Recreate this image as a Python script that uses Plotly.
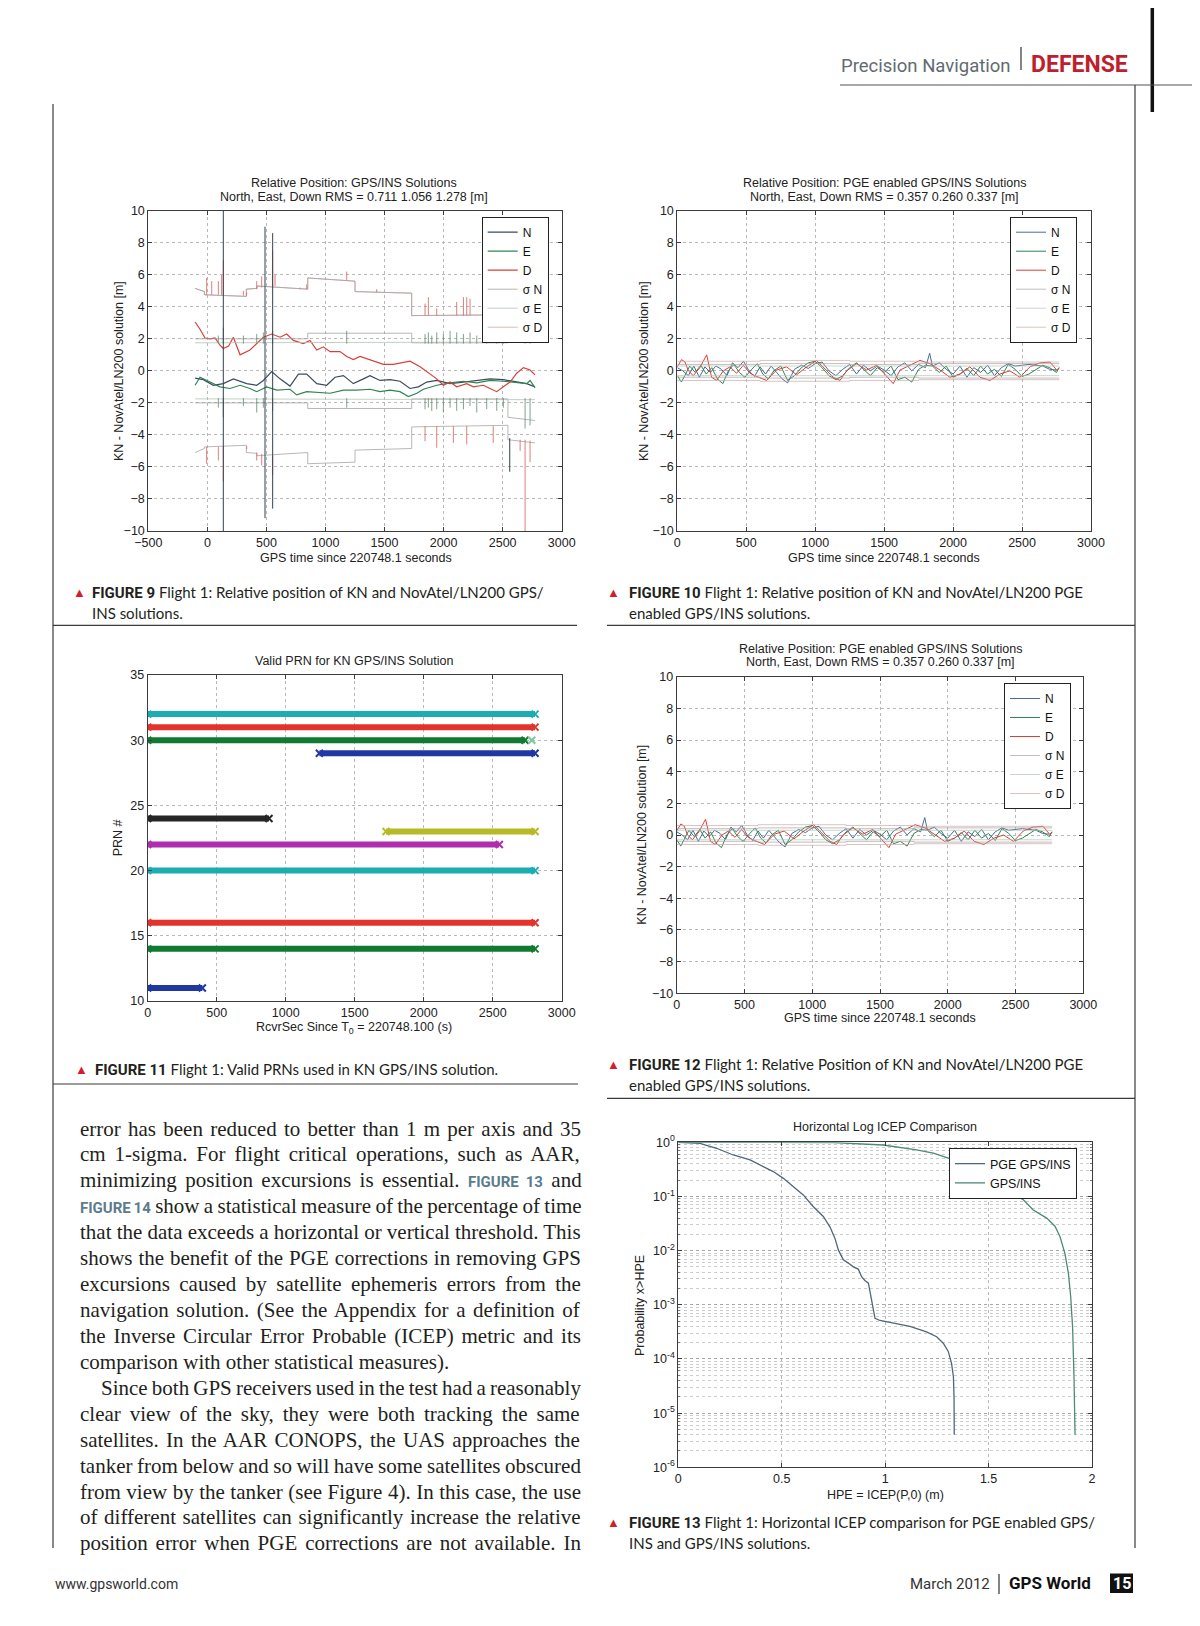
import plotly.graph_objects as go

W, H = 1200, 1626
OFF = 8  # page body margin of the html page
def PX(x): return (x - OFF) / W
def PY(y): return 1 - (y - OFF) / H

# ---------------- DATA ----------------
# Figure 9 : Relative position GPS/INS (t in s, values in m)
fig9_N_t = [-104, -62, -34, 51, 135, 220, 333, 418, 474, 545, 615, 700, 771, 841, 926, 1010, 1081, 1152, 1236, 1321,
            1377, 1462, 1547, 1631, 1716, 1787, 1857, 1942, 2055, 2168, 2281, 2393, 2506, 2619, 2704, 2774]
fig9_N = [-0.45, -0.5, -0.55, -0.9, -0.8, -0.5, -0.8, -0.9, -0.6, -0.05, -0.5, -0.95, -0.2, -0.2, -0.8, -0.9, -0.4, -0.3, -0.8, -0.5,
          -0.3, -0.6, -0.55, -0.65, -1.1, -1.0, -0.7, -0.6, -0.8, -0.7, -0.6, -0.5, -0.55, -0.7, -0.8, -1.0]
fig9_E_t = [-104, -62, 23, 107, 192, 277, 361, 418, 502, 587, 700, 756, 841, 954, 1039, 1152, 1264, 1377, 1462, 1547,
            1631, 1702, 1773, 1829, 1942, 2055, 2168, 2281, 2393, 2506, 2619, 2704, 2732, 2774]
fig9_E = [-0.9, -0.4, -0.7, -1.0, -1.1, -0.9, -1.1, -1.3, -1.0, -1.2, -1.15, -1.5, -1.3, -1.35, -1.4, -1.2, -1.2, -1.15, -1.3, -1.2,
          -1.3, -1.6, -1.4, -1.15, -0.9, -0.75, -0.65, -0.75, -0.6, -0.65, -0.75, -0.8, -0.6, -1.05]
fig9_D_t = [-104, -62, -20, 23, 65, 107, 135, 180, 220, 277, 361, 418, 474, 545, 615, 672, 728, 813, 869, 926,
            982, 1039, 1123, 1180, 1236, 1293, 1377, 1490, 1575, 1660, 1716, 1801, 1857, 1942, 1998, 2055, 2111, 2196, 2252, 2337,
            2393, 2450, 2506, 2563, 2619, 2676, 2732, 2774]
fig9_D = [3.05, 2.6, 2.05, 2.0, 2.05, 1.6, 1.4, 1.55, 2.1, 1.0, 1.3, 1.7, 2.1, 2.3, 2.1, 2.3, 1.9, 1.7, 1.9, 1.3,
          1.5, 1.2, 1.2, 0.9, 0.7, 0.9, 0.7, 0.4, 0.4, 0.5, 0.6, 0.25, -0.05, -0.5, -0.9, -0.7, -1.0, -0.8, -1.0, -0.9,
          -1.1, -1.3, -1.0, -0.7, -0.15, 0.2, 0.05, -0.25]
fig9_sigD_t = [-104, -25, -25, 330, 330, 420, 420, 850, 850, 1250, 1250, 1730, 1730, 2545, 2545, 2774]
fig9_sigD_up = [5.15, 4.95, 4.75, 4.65, 5.1, 5.15, 5.3, 5.1, 5.8, 5.6, 4.95, 4.85, 3.45, 3.5, 4.3, 4.5]
fig9_sigD_lo = [-5.1, -4.85, -4.75, -4.65, -5.1, -5.15, -5.3, -5.1, -5.8, -5.7, -4.95, -4.85, -3.5, -3.4, -4.3, -4.5]
fig9_sigN_t = [-104, 850, 850, 1730, 1730, 2545, 2545, 2774]
fig9_sigN_up = [2.0, 2.0, 2.35, 2.35, 1.75, 1.75, 2.95, 3.05]
fig9_sigN_lo = [-2.0, -2.0, -2.35, -2.35, -1.75, -1.75, -2.9, -3.1]
fig9_sigE_t = [-104, 2774]
fig9_sigE_up = [1.75, 1.8]
fig9_sigE_lo = [-1.75, -1.8]
# spikes (red, upper band)
fig9_rsu_t = [-6, 37, 93, 121, 135, 305, 333, 418, 460, 553, 573, 785, 841, 1180, 1434, 1843, 1871, 1942, 2111, 2168, 2196, 2224]
fig9_rsu_a = [4.75, 4.75, 4.75, 4.75, 4.7, 4.7, 4.7, 5.1, 5.2, 5.3, 5.3, 5.1, 5.1, 5.65, 4.9, 3.45, 3.45, 3.45, 3.45, 3.45, 3.45, 3.45]
fig9_rsu_b = [5.8, 5.6, 5.6, 6.0, 6.9, 5.0, 4.9, 5.6, 5.9, 7.5, 6.0, 5.2, 5.4, 6.2, 5.1, 4.2, 4.6, 3.9, 4.3, 4.6, 4.6, 4.5]
# spikes (red, lower band)
fig9_rsl_t = [-6, 93, 135, 333, 418, 460, 553, 1843, 1942, 2083, 2196, 2420, 2648, 2690, 2732]
fig9_rsl_a = [-4.75, -4.75, -4.7, -4.7, -5.1, -5.2, -5.3, -3.45, -3.45, -3.45, -3.45, -3.45, -4.3, -4.3, -4.35]
fig9_rsl_b = [-5.8, -5.6, -6.9, -4.9, -5.6, -5.9, -6.5, -4.4, -4.8, -4.5, -4.6, -4.5, -5.0, -10.0, -5.7]
# spikes (dark, long)
fig9_dsp_t = [135, 488, 553, 2560]
fig9_dsp_a = [10.0, 9.0, 8.6, -4.2]
fig9_dsp_b = [-10.0, -9.2, -8.6, -6.3]
# spikes (green, around sigma N/E band)
fig9_gsp_t = [93, 135, 305, 418, 474, 553, 1180, 1843, 1871, 1900, 1942, 1998, 2055, 2111, 2168, 2224, 2281, 2365, 2450, 2506, 2690, 2732]
fig9_gsp_up = [2.2, 2.7, 2.2, 2.3, 2.4, 2.5, 2.5, 2.3, 2.4, 2.2, 2.4, 2.3, 2.5, 2.4, 2.3, 2.4, 2.2, 2.5, 2.4, 2.3, 3.5, 3.3]
fig9_gsp_lo = [-2.3, -2.9, -2.2, -2.6, -2.3, -2.5, -2.3, -2.4, -2.3, -2.5, -2.4, -2.6, -2.3, -2.5, -2.4, -2.2, -2.6, -2.4, -2.5, -2.3, -3.6, -3.4]
fig9_sig_base = 1.7

# Figures 10 / 12 : PGE enabled GPS/INS
pge_D_t = [0, 31, 56, 80, 116, 164, 213, 249, 285, 334, 382, 430, 479, 527, 575, 648, 720, 793, 865, 938,
           1010, 1059, 1131, 1180, 1228, 1300, 1373, 1446, 1518, 1566, 1615, 1687, 1760, 1832, 1905, 1977, 2050, 2122, 2195, 2267,
           2340, 2412, 2485, 2557, 2630, 2703, 2751, 2770]
pge_D = [0.25, 0.7, 0.55, 0.0, -0.3, 0.2, 1.0, -0.4, -0.6, 0.0, 0.25, -0.15, 0.35, -0.15, -0.35, -0.6, 0.05, 0.25, -0.25, 0.25,
         0.65, 0.25, -0.4, -0.6, 0.0, 0.45, 0.05, 0.35, -0.35, -0.8, 0.05, 0.35, 0.65, 0.45, 0.05, -0.4, -0.2, 0.25, -0.4, -0.6,
         -0.2, 0.0, -0.4, 0.25, 0.5, 0.55, 0.05, 0.2]
pge_E_t = [0, 30, 60, 90, 130, 170, 210, 250, 290, 330, 370, 410, 450, 490, 540, 580, 620, 660, 700, 750,
           800, 850, 900, 950, 1000, 1050, 1100, 1150, 1200, 1250, 1300, 1350, 1400, 1450, 1500, 1550, 1600, 1650, 1700, 1750,
           1800, 1850, 1900, 1950, 2000, 2050, 2100, 2150, 2200, 2250, 2300, 2350, 2400, 2450, 2500, 2550, 2600, 2650, 2700, 2750, 2770]
pge_E = [-0.3, -0.7, -0.2, 0.3, -0.1, 0.35, -0.2, 0.2, -0.5, -0.8, 0.0, 0.4, -0.1, -0.4, 0.1, 0.45, -0.2, -0.5, 0.0, 0.3,
         -0.6, -0.3, 0.2, 0.5, 0.6, 0.2, -0.3, -0.55, -0.3, 0.2, 0.5, 0.1, -0.3, 0.2, -0.1, 0.3, -0.55, -0.4, -0.7, 0.1,
         0.35, 0.3, -0.1, 0.3, -0.4, -0.2, 0.15, -0.3, 0.3, -0.2, 0.1, -0.35, 0.4, 0.1, -0.35, -0.2, 0.1, 0.35, 0.2, -0.1, 0.2]
pge_N_t = [0, 40, 80, 120, 160, 200, 240, 280, 320, 360, 400, 440, 480, 520, 560, 600, 640, 680, 720, 760,
           800, 850, 900, 950, 1000, 1050, 1100, 1150, 1200, 1250, 1300, 1350, 1400, 1450, 1500, 1550, 1600, 1650, 1700, 1750,
           1800, 1830, 1850, 1900, 1950, 2000, 2050, 2100, 2150, 2200, 2250, 2300, 2350, 2400, 2450, 2500, 2550, 2600, 2650, 2700, 2750]
pge_N = [0.2, 0.0, -0.3, 0.3, -0.4, 0.25, -0.1, 0.3, 0.1, -0.3, 0.5, 0.2, 0.6, 0.0, -0.35, 0.25, -0.2, 0.3, -0.1, -0.5,
         -0.75, 0.1, 0.35, 0.15, 0.45, 0.55, 0.0, -0.3, 0.1, 0.4, -0.2, 0.35, 0.0, 0.3, 0.05, -0.3, 0.25, 0.5, 0.0, 0.4,
         0.2, 1.1, 0.3, 0.5, 0.1, -0.2, 0.3, -0.4, 0.2, -0.1, 0.35, -0.3, 0.2, 0.45, 0.3, 0.35, 0.4, 0.35, 0.3, 0.1, 0.05]
pge_sig_t = [0, 600, 600, 1250, 1250, 1750, 1750, 2770]
pge_sigN = [0.4, 0.4, 0.45, 0.45, 0.4, 0.4, 0.45, 0.45]
pge_sigE = [0.3, 0.3, 0.32, 0.32, 0.3, 0.3, 0.3, 0.3]
pge_sigD = [0.6, 0.6, 0.65, 0.65, 0.6, 0.6, 0.55, 0.55]

# Figure 11 : valid PRNs
prn_ids = [32, 31, 30, 29, 24, 23, 22, 20, 16, 14, 11]
prn_start = [0, 0, 0, 1244, 0, 1727, 0, 0, 0, 0, 0]
prn_end = [2807, 2807, 2734, 2807, 879, 2807, 2548, 2807, 2807, 2807, 396]
prn_colors = ['#1aaeb2', '#e2332d', '#0f7a30', '#1f38a2', '#262626', '#b8ba25', '#b02db0',
              '#1aaeb2', '#e2332d', '#0f7a30', '#1f38a2']
prn_extra_x = [2783]
prn_extra_y = [30]

# Figure 13 : horizontal log ICEP comparison
pge_hpe = [0.0, 0.105, 0.185, 0.266, 0.347, 0.395, 0.459, 0.508, 0.556, 0.604, 0.653, 0.701, 0.733, 0.757, 0.774, 0.798,
           0.822, 0.846, 0.870, 0.886, 0.902, 0.919, 0.930, 0.940, 0.951, 0.975, 1.039, 1.12, 1.20, 1.249, 1.281, 1.305,
           1.321, 1.33, 1.333, 1.334]
pge_prob = [1.0, 0.959, 0.776, 0.583, 0.472, 0.380, 0.288, 0.216, 0.151, 0.107, 0.0646, 0.0427, 0.0275, 0.0170, 0.0102, 0.00676,
            0.00589, 0.00501, 0.00457, 0.00331, 0.00282, 0.00251, 0.00151, 0.000933, 0.000562, 0.000513, 0.000457, 0.000398,
            0.000316, 0.000257, 0.000195, 0.000138, 8.3e-5, 4.7e-5, 2.0e-5, 4.0e-6]
gps_hpe = [0.0, 0.75, 0.99, 1.152, 1.233, 1.313, 1.394, 1.475, 1.523, 1.6, 1.668, 1.716, 1.781, 1.821, 1.845, 1.869,
           1.886, 1.897, 1.906, 1.913, 1.918]
gps_prob = [1.0, 0.989, 0.891, 0.724, 0.631, 0.501, 0.380, 0.224, 0.170, 0.117, 0.0871, 0.0562, 0.0398, 0.0282, 0.0182,
            0.00891, 0.0038, 0.00141, 0.000398, 4.7e-5, 4.0e-6]

# Tick labels
log_tickvals = [1e-6, 1e-5, 1e-4, 1e-3, 1e-2, 1e-1, 1]
log_ticktext = ['10<sup>-6</sup>', '10<sup>-5</sup>', '10<sup>-4</sup>', '10<sup>-3</sup>',
                '10<sup>-2</sup>', '10<sup>-1</sup>', '10<sup>0</sup>']

# Body text
body_lines = [
    "error has been reduced to better than 1 m per axis and 35",
    "cm 1-sigma. For flight critical operations, such as AAR,",
    "minimizing position excursions is essential. §FIGURE 13§ and",
    "§FIGURE 14§ show a statistical measure of the percentage of time",
    "that the data exceeds a horizontal or vertical threshold. This",
    "shows the benefit of the PGE corrections in removing GPS",
    "excursions caused by satellite ephemeris errors from the",
    "navigation solution. (See the Appendix for a definition of",
    "the Inverse Circular Error Probable (ICEP) metric and its",
    "comparison with other statistical measures).",
    "Since both GPS receivers used in the test had a reasonably",
    "clear view of the sky, they were both tracking the same",
    "satellites. In the AAR CONOPS, the UAS approaches the",
    "tanker from below and so will have some satellites obscured",
    "from view by the tanker (see Figure 4). In this case, the use",
    "of different satellites can significantly increase the relative",
    "position error when PGE corrections are not available. In",
]
body_last_of_par = [9]
body_indent = [10]

# ---------------- FIGURE ----------------
fig = go.Figure()

C_N, C_E, C_D = '#3b4b5a', '#2f8552', '#d8403a'
C_SN, C_SE, C_SD = '#a3a3a3', '#b4c4b4', '#d2a6a6'
C_N2 = '#4a6a9a'

def axn(i):
    return '' if i == 1 else str(i)

def line(t, v, ax, color, width=1.0, name=None, legend=None, show=False):
    fig.add_trace(go.Scatter(x=t, y=v, xaxis='x' + axn(ax), yaxis='y' + axn(ax), mode='lines',
                             line=dict(color=color, width=width), name=name,
                             legend=legend, showlegend=show, hoverinfo='skip'))

def segs(ts, a, b):
    xs, ys = [], []
    for t, y0, y1 in zip(ts, a, b):
        xs += [t, t, None]
        ys += [y0, y1, None]
    return xs, ys

# Figure 9
line(fig9_N_t, fig9_N, 1, C_N, 1.2, 'N', 'legend', True)
line(fig9_E_t, fig9_E, 1, C_E, 1.2, 'E', 'legend', True)
line(fig9_D_t, fig9_D, 1, C_D, 1.2, 'D', 'legend', True)
line(fig9_sigN_t, fig9_sigN_up, 1, C_SN, 0.8, 'σ N', 'legend', True)
line(fig9_sigE_t, fig9_sigE_up, 1, C_SE, 0.8, 'σ E', 'legend', True)
line(fig9_sigD_t, fig9_sigD_up, 1, C_SD, 0.8, 'σ D', 'legend', True)
line(fig9_sigN_t, fig9_sigN_lo, 1, C_SN, 0.8)
line(fig9_sigE_t, fig9_sigE_lo, 1, C_SE, 0.8)
line(fig9_sigD_t, fig9_sigD_lo, 1, '#a9a3a3', 0.8)
line(fig9_sigD_t, fig9_sigD_up, 1, '#a9a3a3', 0.8)
x, y = segs(fig9_rsu_t, fig9_rsu_a, fig9_rsu_b); line(x, y, 1, '#d9706a', 0.9)
x, y = segs(fig9_rsl_t, fig9_rsl_a, fig9_rsl_b); line(x, y, 1, '#d9706a', 0.9)
x, y = segs(fig9_gsp_t, [fig9_sig_base] * len(fig9_gsp_t), fig9_gsp_up); line(x, y, 1, '#5f8a70', 0.8)
x, y = segs(fig9_gsp_t, [-fig9_sig_base] * len(fig9_gsp_t), fig9_gsp_lo); line(x, y, 1, '#5f8a70', 0.8)
x, y = segs(fig9_dsp_t, fig9_dsp_a, fig9_dsp_b); line(x, y, 1, '#33414c', 1.0)

# Figures 10 and 12 (same data)
for ax, lg in ((2, 'legend2'), (4, 'legend3')):
    line(pge_N_t, pge_N, ax, C_N2, 1.0, 'N', lg, True)
    line(pge_E_t, pge_E, ax, C_E, 1.0, 'E', lg, True)
    line(pge_D_t, pge_D, ax, C_D, 1.0, 'D', lg, True)
    line(pge_sig_t, pge_sigN, ax, C_SN, 0.7, 'σ N', lg, True)
    line(pge_sig_t, pge_sigE, ax, C_SE, 0.7, 'σ E', lg, True)
    line(pge_sig_t, pge_sigD, ax, C_SD, 0.7, 'σ D', lg, True)
    line(pge_sig_t, [-v for v in pge_sigN], ax, C_SN, 0.7)
    line(pge_sig_t, [-v for v in pge_sigE], ax, C_SE, 0.7)
    line(pge_sig_t, [-v for v in pge_sigD], ax, C_SD, 0.7)

# Figure 11
for pid, s, e, c in zip(prn_ids, prn_start, prn_end, prn_colors):
    fig.add_trace(go.Scatter(x=[s, e], y=[pid, pid], xaxis='x3', yaxis='y3', mode='lines+markers',
                             line=dict(color=c, width=6), marker=dict(symbol='x-thin', size=7, color=c,
                                                                       line=dict(color=c, width=2)),
                             showlegend=False, hoverinfo='skip'))
fig.add_trace(go.Scatter(x=prn_extra_x, y=prn_extra_y, xaxis='x3', yaxis='y3', mode='markers',
                         marker=dict(symbol='x-thin', size=7, line=dict(color='#7cc89a', width=2)),
                         showlegend=False, hoverinfo='skip'))

# Figure 13
fig.add_trace(go.Scatter(x=pge_hpe, y=pge_prob, xaxis='x5', yaxis='y5', mode='lines',
                         line=dict(color='#506679', width=1.3), name='PGE GPS/INS', legend='legend4'))
fig.add_trace(go.Scatter(x=gps_hpe, y=gps_prob, xaxis='x5', yaxis='y5', mode='lines',
                         line=dict(color='#4b8a76', width=1.3), name='GPS/INS', legend='legend4'))

# ---------------- AXES ----------------
TICKFONT = dict(family='Liberation Sans, Arial', size=12.5, color='#222')

def axis(domain, anchor, rng, **kw):
    d = dict(domain=domain, anchor=anchor, range=rng, showline=True, linecolor='#3c3c3c', linewidth=1,
             mirror='ticks', ticks='inside', ticklen=4, tickcolor='#3c3c3c', showgrid=True,
             gridcolor='#b9b9b9', griddash='dot', gridwidth=1, zeroline=False, tickfont=TICKFONT,
             automargin=False)
    d.update(kw)
    return d

def dom_x(l, r): return [PX(l), PX(r)]
def dom_y(t, b): return [PY(b), PY(t)]

lay = dict(width=W, height=H, margin=dict(l=0, r=0, t=0, b=0, pad=0, autoexpand=False),
           paper_bgcolor='white', plot_bgcolor='white', showlegend=True)
lay['xaxis'] = axis(dom_x(148.3, 561.7), 'y', [-500, 3000], dtick=500)
lay['yaxis'] = axis(dom_y(210.7, 531), 'x', [-10, 10], dtick=2)
lay['xaxis2'] = axis(dom_x(677.3, 1091), 'y2', [0, 3000], dtick=500)
lay['yaxis2'] = axis(dom_y(210.7, 531), 'x2', [-10, 10], dtick=2)
lay['xaxis3'] = axis(dom_x(147.7, 561.7), 'y3', [0, 3000], dtick=500)
lay['yaxis3'] = axis(dom_y(675, 1001), 'x3', [10, 35], dtick=5)
lay['xaxis4'] = axis(dom_x(676.7, 1083.3), 'y4', [0, 3000], dtick=500)
lay['yaxis4'] = axis(dom_y(676.7, 993.3), 'x4', [-10, 10], dtick=2)
lay['xaxis5'] = axis(dom_x(678.3, 1092), 'y5', [0, 2], dtick=0.5)
lay['yaxis5'] = axis(dom_y(1142.3, 1467.3), 'x5', [-6, 0], type='log', tickvals=log_tickvals,
                     ticktext=log_ticktext, gridcolor='#a8a8a8',
                     minor=dict(showgrid=True, gridcolor='#cdcdcd', griddash='dot', dtick='D1',
                                ticks='inside', ticklen=2, tickcolor='#777'))

def legend(x, y, size=12):
    return dict(x=PX(x), y=PY(y), xanchor='left', yanchor='top', xref='paper', yref='paper', bgcolor='white',
                bordercolor='#222', borderwidth=1, font=dict(family='Liberation Sans, Arial', size=size, color='#111'),
                tracegroupgap=0, itemwidth=30, traceorder='normal')

lay['legend'] = legend(481.7, 216.7, 12)
lay['legend2'] = legend(1010, 216.7, 12)
lay['legend3'] = legend(1004, 683, 12)
lay['legend4'] = legend(949, 1148, 12.5)

# ---------------- TEXT ----------------
ann = []
SANS = 'Liberation Sans, Arial'
NARROW = 'Roboto'

def text(x, y, s, size=12.5, color='#222', family=SANS, xanchor='center', yanchor='middle', angle=0):
    ann.append(dict(x=PX(x), y=PY(y), xref='paper', yref='paper', text=s, showarrow=False,
                    font=dict(size=size, color=color, family=family), xanchor=xanchor, yanchor=yanchor,
                    textangle=angle, borderpad=0))

# chart titles
text(354, 182.7, 'Relative Position: GPS/INS Solutions')
text(354, 196.7, 'North, East, Down RMS = 0.711 1.056 1.278 [m]')
text(884, 182.7, 'Relative Position: PGE enabled GPS/INS Solutions')
text(884, 196.7, 'North, East, Down RMS = 0.357 0.260 0.337 [m]')
text(354, 660.7, 'Valid PRN for KN GPS/INS Solution')
text(880, 648.5, 'Relative Position: PGE enabled GPS/INS Solutions')
text(880, 662.5, 'North, East, Down RMS = 0.357 0.260 0.337 [m]')
text(885, 1127, 'Horizontal Log ICEP Comparison')
# axis titles
text(356, 557.7, 'GPS time since 220748.1 seconds')
text(884, 557.7, 'GPS time since 220748.1 seconds')
text(354, 1027.7, 'RcvrSec Since T<sub>0</sub> = 220748.100 (s)')
text(880, 1018.3, 'GPS time since 220748.1 seconds')
text(885, 1495, 'HPE = ICEP(P,0) (m)')
text(118.3, 370.8, 'KN - NovAtel/LN200 solution [m]', angle=-90)
text(643.3, 370.8, 'KN - NovAtel/LN200 solution [m]', angle=-90)
text(118.3, 838, 'PRN #', angle=-90)
text(641.7, 835, 'KN - NovAtel/LN200 solution [m]', angle=-90)
text(640, 1305, 'Probability x>HPE', angle=-90)

# header
text(1012, 66, 'Precision Navigation', size=18.5, color='#5f6b70', family=NARROW, xanchor='right')
text(1030, 65, '<b>DEFENSE</b>', size=23, color='#be1e2d', family=NARROW, xanchor='left')

# captions
CAP = 'Lato, Open Sans'
def caption(x_tri, x_txt, y1, label, rest1, rest2=None):
    text(x_tri, y1, '▲', size=13, color='#d31c2c', xanchor='center')
    s = ('<span style="font-family:Roboto;font-weight:bold">' + label + '</span> ' + rest1)
    text(x_txt, y1, s, size=15, color='#231f20', family=CAP, xanchor='left')
    if rest2:
        text(x_txt, y1 + 20.5, rest2, size=15, color='#231f20', family=CAP, xanchor='left')

caption(79, 91, 592, 'FIGURE 9', 'Flight 1: Relative position of KN and NovAtel/LN200 GPS/', 'INS solutions.')
caption(613, 627.5, 592, 'FIGURE 10', 'Flight 1: Relative position of KN and NovAtel/LN200 PGE',
        'enabled GPS/INS solutions.')
caption(81, 94, 1069, 'FIGURE 11', 'Flight 1: Valid PRNs used in KN GPS/INS solution.')
caption(613, 627.5, 1064, 'FIGURE 12', 'Flight 1: Relative Position of KN and NovAtel/LN200 PGE',
        'enabled GPS/INS solutions.')
caption(613, 627.5, 1522, 'FIGURE 13', 'Flight 1: Horizontal ICEP comparison for PGE enabled GPS/',
        'INS and GPS/INS solutions.')

# body text (justified via word spacing, using Times metrics)
TIMES = {' ': 250, '(': 333, ')': 333, ',': 250, '-': 333, '.': 250, '/': 278, ':': 278, ';': 278,
         'A': 722, 'B': 667, 'C': 667, 'D': 722, 'E': 611, 'F': 556, 'G': 722, 'H': 722, 'I': 333, 'J': 389,
         'K': 722, 'L': 611, 'M': 889, 'N': 722, 'O': 722, 'P': 556, 'Q': 722, 'R': 667, 'S': 556, 'T': 611,
         'U': 722, 'V': 722, 'W': 944, 'X': 722, 'Y': 722, 'Z': 611,
         'a': 444, 'b': 500, 'c': 444, 'd': 500, 'e': 444, 'f': 333, 'g': 500, 'h': 500, 'i': 278, 'j': 278,
         'k': 500, 'l': 278, 'm': 778, 'n': 500, 'o': 500, 'p': 500, 'q': 500, 'r': 333, 's': 389, 't': 278,
         'u': 500, 'v': 500, 'w': 722, 'x': 500, 'y': 500, 'z': 444}
ROBOTO_B = {'F': 551, 'I': 288, 'G': 681, 'U': 650, 'R': 628, 'E': 567, ' ': 249}
BODY_FS, REF_FS = 21, 15
LEFT, RIGHT = 79, 580
for i, ln in enumerate(body_lines):
    parts = ln.split('§')
    width, html = 0.0, ''
    for k, p in enumerate(parts):
        if k % 2 == 1:
            width += sum(ROBOTO_B.get(c, 562) for c in p) * REF_FS / 1000
            html += ('<span style="font-family:Roboto;font-weight:bold;font-size:%dpx;fill:#5b7c8c">%s</span>'
                     % (REF_FS, p))
        else:
            width += sum(TIMES.get(c, 500) for c in p) * BODY_FS / 1000
            html += p
    x0 = LEFT + (21 if i in body_indent else 0)
    nsp = ln.count(' ')
    ws = 0.0 if i in body_last_of_par else (RIGHT - x0 - width) / max(nsp, 1)
    html = '<span style="word-spacing:%.2fpx">%s</span>' % (ws, html)
    text(x0, 1128.5 + i * 25.93, html, size=BODY_FS, color='#231f20', family='Liberation Serif, Times New Roman',
         xanchor='left')

# footer
text(54, 1584, 'www.gpsworld.com', size=14, color='#333', family=NARROW, xanchor='left')
text(991, 1584, 'March 2012', size=15, color='#333', family=NARROW, xanchor='right')
text(1008, 1583, '<b>GPS World</b>', size=17, color='#111', family=NARROW, xanchor='left')
text(1121.5, 1583, '<b>15</b>', size=16, color='white', family=NARROW)

# ---------------- SHAPES (page rules) ----------------
shapes = []
def seg(x0, y0, x1, y1, w=1.0, c='#3a3a3a'):
    shapes.append(dict(type='line', xref='paper', yref='paper', x0=PX(x0), y0=PY(y0), x1=PX(x1), y1=PY(y1),
                       line=dict(color=c, width=w)))

seg(1152.3, 0, 1152.3, 112, 3.5, '#111')
seg(840, 85, 1200, 85, 1.2, '#555')
seg(1021, 47, 1021, 70, 1.2, '#333')
seg(53, 104, 53, 1548, 1.2)
seg(1135, 85, 1135, 1548, 1.2)
seg(53, 625.4, 577, 625.4, 1.2)
seg(607, 625.4, 1135, 625.4, 1.2)
seg(53, 1084, 578, 1084, 1.2)
seg(607, 1098.4, 1135, 1098.4, 1.2)
seg(999, 1574, 999, 1594, 1.2, '#333')
shapes.append(dict(type='rect', xref='paper', yref='paper', x0=PX(1110), x1=PX(1133), y0=PY(1593), y1=PY(1573.5),
                   fillcolor='#111', line=dict(width=0)))

lay['annotations'] = ann
lay['shapes'] = shapes
fig.update_layout(**lay)
fig.write_html('out.html')
